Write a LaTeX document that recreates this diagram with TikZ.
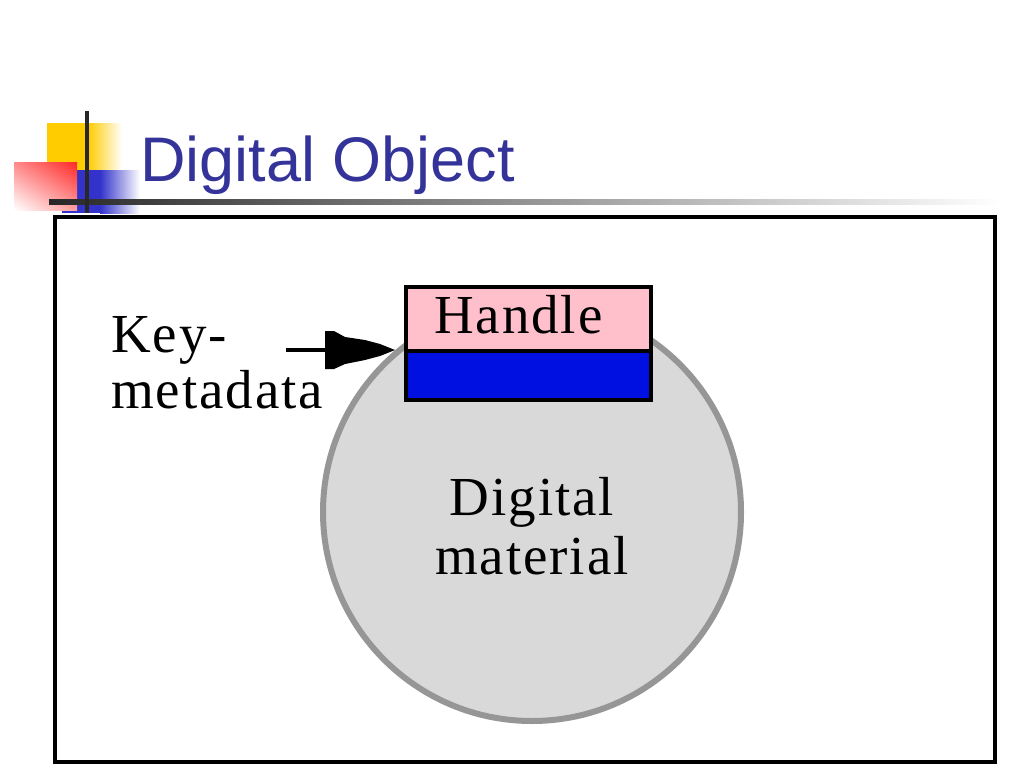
\documentclass[tikz,border=0pt]{standalone}
\usepackage{fontspec}
\setmainfont[LetterSpace=3.5]{Liberation Serif}
\newfontfamily\titlefont{Liberation Sans}
\usetikzlibrary{shadings}
\definecolor{titleblue}{RGB}{51,51,153}
\definecolor{bulyellow}{RGB}{255,204,0}
\definecolor{bulblue}{RGB}{51,51,204}
\definecolor{bulred}{RGB}{255,40,40}
\definecolor{handlepink}{RGB}{255,192,203}
\definecolor{handleblue}{RGB}{0,16,224}
\definecolor{circfill}{RGB}{217,217,217}
\definecolor{circline}{RGB}{150,150,150}
\definecolor{ruledark}{RGB}{40,40,40}
\tikzset{
  lbl/.style={anchor=base west, inner sep=0pt, font=\fontsize{55}{59}\selectfont},
  clbl/.style={anchor=base, inner sep=0pt, font=\fontsize{55}{59}\selectfont},
  boxline/.style={draw=black, line width=3.5pt},
}
\begin{document}
\begin{tikzpicture}[x=1pt,y=-1pt]
\useasboundingbox[fill=white] (0,0) rectangle (1024,768);
% title bullet
\fill[bulyellow] (47,123) rectangle (88,172);
\shade[left color=bulyellow, right color=white] (88,123) rectangle (122,172);
\fill[bulblue] (62,170) rectangle (100,213);
\shade[left color=bulblue, right color=white] (100,170) rectangle (140,213);
\shade[upper right=bulred, upper left=bulred!55!white, lower right=bulred!45!white, lower left=white] (14,162) rectangle (77,210);
% title rule
\shade[left color=ruledark, right color=white] (49,199) rectangle (1000,204);
\fill[ruledark] (85,111) rectangle (89,213);
% title
\node[anchor=base west, inner sep=0pt, text=titleblue, font=\titlefont\fontsize{63}{70}\selectfont] (title) at (140,181) {Digital Object};
% frame
\node[boxline, minimum width=940pt, minimum height=545pt, inner sep=0pt, anchor=north west] (frame) at (53,215) {};
% circle
\node[circle, fill=circfill, draw=circline, line width=6pt, minimum size=418pt, inner sep=0pt] (material) at (532,512) {};
\node[clbl] (digital) at (532,515) {Digital};
\node[clbl] (materialtxt) at (532,574) {material};
% handle box
\node[boxline, fill=handlepink, minimum width=245pt, minimum height=64pt, inner sep=0pt, anchor=north west] (handle) at (404,285) {};
\node[boxline, fill=handleblue, minimum width=245pt, minimum height=49pt, inner sep=0pt, anchor=north west] (keymd) at (404,349) {};
\node[lbl] (handletxt) at (434,333) {Handle};
% key metadata label
\node[lbl] (key) at (111,352) {Key-};
\node[lbl] (meta) at (111,408) {metadata};
% arrow
\coordinate (tail) at (286,350);
\coordinate (headbase) at (326,350);
\coordinate (tip) at (395,350);
\draw[line width=4pt] (tail) -- (headbase);
\fill[black] (325,331) -- (334,331) -- (345,337) -- (365,340) -- (380,344) -- (tip) -- (380,356) -- (365,360) -- (345,364) -- (334,369) -- (325,369) -- cycle;
\end{tikzpicture}
\end{document}
